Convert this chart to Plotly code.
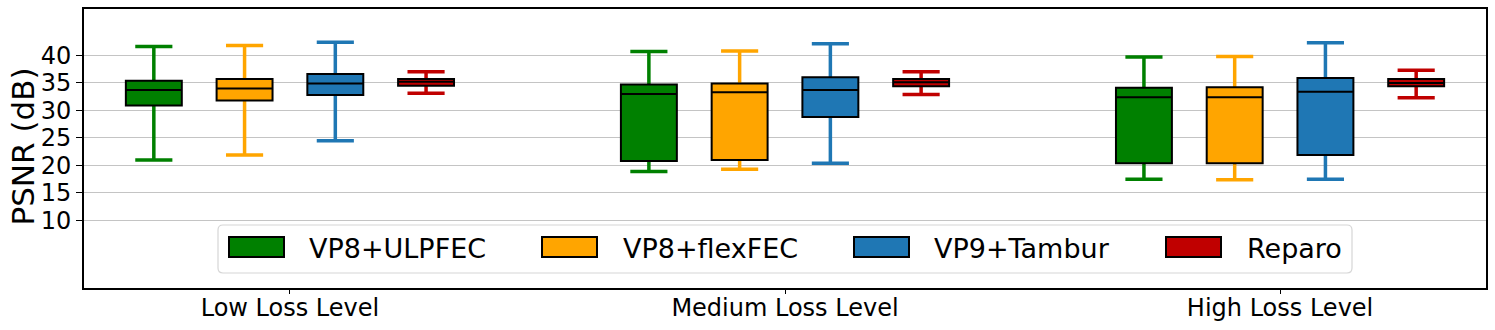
import plotly.graph_objects as go

levels = ['Low Loss Level', 'Medium Loss Level', 'High Loss Level']
methods = ['VP8+ULPFEC', 'VP8+flexFEC', 'VP9+Tambur', 'Reparo']
colors = ['#008000', '#ffa500', '#1f77b4', '#c00000']

# PSNR (dB) box stats, one value per loss level (low, medium, high)
ulpfec_min = [21.0, 18.9, 17.5]
ulpfec_q1 = [30.9, 20.8, 20.4]
ulpfec_med = [33.7, 33.0, 32.4]
ulpfec_q3 = [35.4, 34.7, 34.1]
ulpfec_max = [41.6, 40.7, 39.7]

flexfec_min = [21.9, 19.3, 17.4]
flexfec_q1 = [31.8, 21.0, 20.4]
flexfec_med = [34.0, 33.3, 32.4]
flexfec_q3 = [35.7, 34.9, 34.2]
flexfec_max = [41.8, 40.8, 39.8]

tambur_min = [24.5, 20.4, 17.5]
tambur_q1 = [32.8, 28.8, 21.9]
tambur_med = [34.9, 33.7, 33.4]
tambur_q3 = [36.6, 36.0, 35.9]
tambur_max = [42.4, 42.1, 42.3]

reparo_min = [33.1, 32.9, 32.3]
reparo_q1 = [34.5, 34.4, 34.4]
reparo_med = [35.2, 35.1, 35.0]
reparo_q3 = [35.7, 35.7, 35.7]
reparo_max = [37.0, 37.0, 37.3]

stats = [
    (ulpfec_min, ulpfec_q1, ulpfec_med, ulpfec_q3, ulpfec_max),
    (flexfec_min, flexfec_q1, flexfec_med, flexfec_q3, flexfec_max),
    (tambur_min, tambur_q1, tambur_med, tambur_q3, tambur_max),
    (reparo_min, reparo_q1, reparo_med, reparo_q3, reparo_max),
]

step = 0.1833
box_w = 0.113
cap_w = 0.075
offsets = [(k - 1.5) * step for k in range(len(methods))]

fig = go.Figure()

for m, (lo, q1, med, q3, hi) in enumerate(stats):
    for i in range(len(levels)):
        pos = i + offsets[m]
        # coloured whiskers and caps (box collapsed onto the median, hidden below)
        fig.add_trace(go.Box(
            x=[pos], q1=[med[i]], median=[med[i]], q3=[med[i]],
            lowerfence=[lo[i]], upperfence=[hi[i]],
            width=cap_w, whiskerwidth=1,
            line=dict(color=colors[m], width=3.5), fillcolor=colors[m],
            showlegend=False, hoverinfo='skip'))
        # black-outlined box with median
        fig.add_trace(go.Box(
            x=[pos], q1=[q1[i]], median=[med[i]], q3=[q3[i]],
            lowerfence=[q1[i]], upperfence=[q3[i]],
            width=box_w, whiskerwidth=0,
            line=dict(color='black', width=2), fillcolor=colors[m],
            name=methods[m], showlegend=False))

# plot area in pixels
L, R, T, B = 84, 9, 9, 42
W, H = 1495, 330
pw, ph = W - L - R, H - T - B


def px(p):
    return (p - L) / pw


def py(p):
    return (H - B - p) / ph


# hand-drawn legend (big patches like matplotlib)
shapes = []
annotations = []
x0, x1, y0, y1, r = 218, 1352, 225, 273, 5
rx, ry = r / pw, r / ph
path = (f'M{px(x0)+rx},{py(y0)} L{px(x1)-rx},{py(y0)} Q{px(x1)},{py(y0)} {px(x1)},{py(y0)-ry} '
        f'L{px(x1)},{py(y1)+ry} Q{px(x1)},{py(y1)} {px(x1)-rx},{py(y1)} '
        f'L{px(x0)+rx},{py(y1)} Q{px(x0)},{py(y1)} {px(x0)},{py(y1)+ry} '
        f'L{px(x0)},{py(y0)-ry} Q{px(x0)},{py(y0)} {px(x0)+rx},{py(y0)} Z')
shapes.append(dict(type='path', xref='paper', yref='paper', path=path,
                   line=dict(color='#d6d6d6', width=1.2), fillcolor='rgba(255,255,255,0.8)', layer='above'))
patch_x = [229, 542, 854, 1166]
text_x = [307, 621, 932, 1245]
for m in range(len(methods)):
    shapes.append(dict(type='rect', xref='paper', yref='paper',
                       x0=px(patch_x[m]), x1=px(patch_x[m] + 55), y0=py(257), y1=py(237),
                       line=dict(color='black', width=2), fillcolor=colors[m], layer='above'))
    annotations.append(dict(xref='paper', yref='paper', x=px(text_x[m]), y=py(248),
                            xanchor='left', yanchor='middle', showarrow=False,
                            text=methods[m], font=dict(size=27, color='black')))

# y-axis title as a rotated annotation so it can sit where the reference has it
annotations.append(dict(xref='paper', yref='paper', x=px(22.5), y=py(147),
                        xanchor='center', yanchor='middle', showarrow=False,
                        textangle=-90, text='PSNR (dB)', font=dict(size=31, color='black')))

fig.update_layout(
    width=W, height=H,
    margin=dict(l=L, r=R, t=T, b=B),
    plot_bgcolor='white', paper_bgcolor='white',
    font=dict(family='DejaVu Sans', color='black'),
    boxmode='overlay',
    shapes=shapes, annotations=annotations,
)
fig.update_xaxes(range=[-0.416, 2.416], tickvals=[0, 1, 2], ticktext=levels,
                 tickfont=dict(size=24), ticks='outside', ticklen=4, tickcolor='black',
                 ticklabelstandoff=-7,
                 showline=True, linecolor='black', linewidth=2, mirror=True,
                 showgrid=False, zeroline=False, automargin=False)
fig.update_yaxes(range=[-2.29, 48.43], tickvals=[10, 15, 20, 25, 30, 35, 40],
                 tickfont=dict(size=24), ticks='outside', ticklen=6, tickcolor='black',
                 showline=True, linecolor='black', linewidth=2, mirror=True,
                 showgrid=True, gridcolor='#c4c4c4', gridwidth=1, zeroline=False,
                 automargin=False)

# drop the default page margin so the figure fills the window exactly
fig.write_html('out.html', config={'displayModeBar': False},
               post_script="document.body.style.margin='0';")
